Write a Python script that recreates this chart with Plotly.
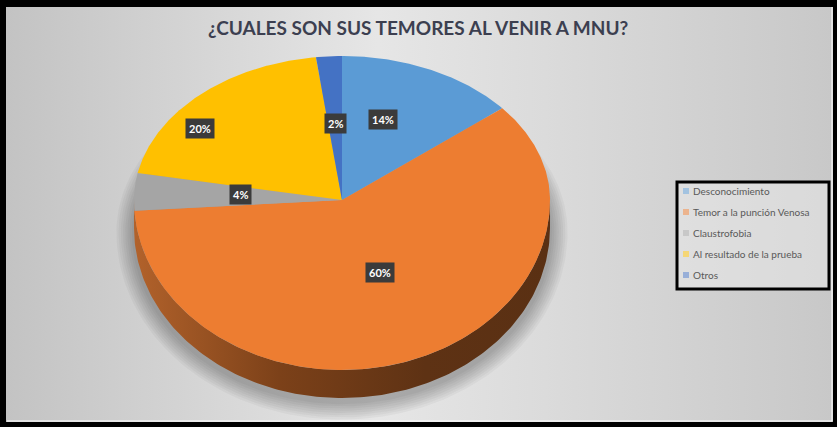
import numpy as np
import plotly.graph_objects as go

# ---- data ----
categories = ["Desconocimiento", "Temor a la punción Venosa", "Claustrofobia",
              "Al resultado de la prueba", "Otros"]
values = [14, 60, 4, 20, 2]
labels_txt = ["14%", "60%", "4%", "20%", "2%"]
colors = ["#5B9BD5", "#ED7D31", "#A5A5A5", "#FFC000", "#4472C4"]
title_text = "¿CUALES SON SUS TEMORES AL VENIR A MNU?"

# ---- geometry (pixel space) ----
W, H = 837, 427
CX, CY = 342, 200
A = 208
B_TOP, B_BOT = 144, 170
DEPTH = 28
# label placement factors (fx, fy) relative to radius, per slice
label_frac = [(0.46, 0.62), (0.5, 0.46), (0.49, 0.6), (1.0, 0.68), (0.5, 0.53)]


def rim(t_deg, cy=CY, grow=0.0):
    t = np.radians(t_deg)
    x = CX + (A + grow) * np.sin(t)
    d = -np.cos(t)
    y = cy + np.where(d > 0, d * (B_BOT + grow), d * (B_TOP + grow))
    return x, y


fig = go.Figure()

# background panel
fig.add_trace(go.Scatter(
    x=[6, 833, 833, 6, 6], y=[7, 7, 422, 422, 7], mode="lines",
    line=dict(width=0), fill="toself",
    fillgradient=dict(type="horizontal",
                      colorscale=[[0, "#c3c3c3"], [0.45, "#e6e6e6"], [1, "#c8c8c8"]]),
    hoverinfo="skip", showlegend=False))
# white inner edge lines (right, bottom)
fig.add_trace(go.Scatter(x=[832, 832, 7], y=[7, 421, 421], mode="lines",
                         line=dict(color="white", width=1), hoverinfo="skip",
                         showlegend=False))

# shadow
for g in range(8, 0, -1):
    ts = np.linspace(0, 360, 241)
    sx, sy = rim(ts, cy=CY + DEPTH + 4, grow=g * 2.2)
    fig.add_trace(go.Scatter(x=sx, y=sy, mode="lines", line=dict(width=0),
                             fill="toself", fillcolor="rgba(0,0,0,0.035)",
                             hoverinfo="skip", showlegend=False))

# side of pie (lower half extrusion)
ts = np.linspace(90, 270, 181)
tx, ty = rim(ts)
bx, by = rim(ts[::-1], cy=CY + DEPTH)
fig.add_trace(go.Scatter(
    x=np.concatenate([tx, bx]), y=np.concatenate([ty, by]), mode="lines",
    line=dict(width=0), fill="toself",
    fillgradient=dict(type="horizontal",
                      colorscale=[[0, "#b2622b"], [0.35, "#7c4119"], [0.7, "#5e3214"], [1, "#5a3013"]]),
    hoverinfo="skip", showlegend=False))

# top face wedges
total = sum(values)
start = 0.0
mids = []
for cat, v, c in zip(categories, values, colors):
    a0 = start
    a1 = start + v / total * 360
    ts = np.linspace(a0, a1, max(4, int((a1 - a0) * 2)))
    wx, wy = rim(ts)
    fig.add_trace(go.Scatter(
        x=np.concatenate([[CX], wx, [CX]]), y=np.concatenate([[CY], wy, [CY]]),
        mode="lines", line=dict(width=0), fill="toself", fillcolor=c,
        name=cat, hoverinfo="name", showlegend=False))
    mids.append((a0 + a1) / 2)
    start = a1

# data labels
for (fx, fy), m, txt in zip(label_frac, mids, labels_txt):
    t = np.radians(m)
    lx = CX + fx * A * np.sin(t)
    d = -np.cos(t)
    ly = CY + fy * d * (B_BOT if d > 0 else B_TOP)
    fig.add_annotation(x=lx, y=ly, text="<b>" + txt + "</b>", showarrow=False,
                       font=dict(family="Lato", size=11, color="white"),
                       bgcolor="#3b3b3b", borderpad=3)

# title
fig.add_annotation(x=418, y=27, text="<b>" + title_text + "</b>", showarrow=False,
                   font=dict(family="Lato", size=19, color="#3c3f50"))

# legend (manual)
LX0, LY0, LX1, LY1 = 677, 182, 829, 289
fig.add_shape(type="rect", x0=LX0, y0=LY0, x1=LX1, y1=LY1,
              line=dict(color="black", width=3), fillcolor="rgba(235,235,235,0.5)",
              layer="above")
for i, (cat, c) in enumerate(zip(categories, colors)):
    yy = 191 + i * 21
    fig.add_trace(go.Scatter(x=[686], y=[yy], mode="markers",
                             marker=dict(symbol="square", size=6, color=c),
                             hoverinfo="skip", showlegend=False))
    fig.add_annotation(x=691, y=yy, text=cat, showarrow=False, xanchor="left",
                       font=dict(family="Lato", size=10, color="#595959"))

fig.update_layout(
    width=W, height=H, margin=dict(l=0, r=0, t=0, b=0),
    paper_bgcolor="black", plot_bgcolor="black",
    xaxis=dict(range=[0, W], visible=False, fixedrange=True),
    yaxis=dict(range=[H, 0], visible=False, fixedrange=True),
    showlegend=False,
)
fig.write_html("out.html", config={"displayModeBar": False},
               post_script="document.body.style.margin='0';document.body.style.overflow='hidden';")
